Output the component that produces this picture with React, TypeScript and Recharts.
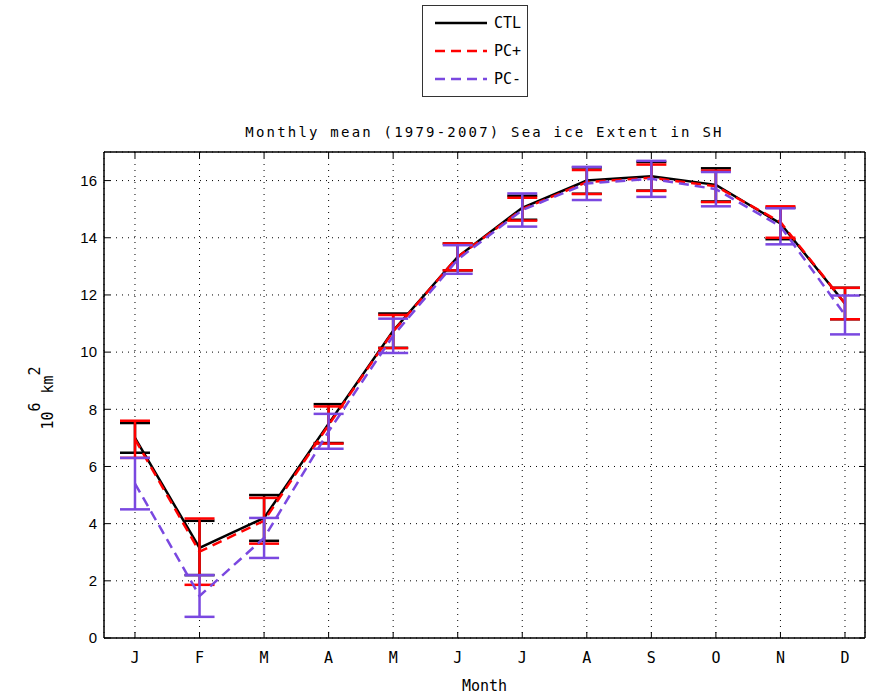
import React from "react";
import { ComposedChart, Line, XAxis, YAxis, CartesianGrid, ErrorBar } from "recharts";

// Kuukaudet (x-akselin tunnisteet)
const months = ["J", "F", "M", "A", "M", "J", "J", "A", "S", "O", "N", "D"];
const yTicks = [0, 2, 4, 6, 8, 10, 12, 14, 16];

// Keskiarvot ja keskihajonnat (10^6 km^2)
const ctl = [7.0, 3.15, 4.2, 7.5, 10.75, 13.33, 15.05, 16.0, 16.15, 15.85, 14.5, 11.7];
const ctlErr = [0.52, 0.95, 0.8, 0.68, 0.6, 0.47, 0.42, 0.46, 0.5, 0.58, 0.55, 0.55];
const pcPlus = [6.95, 3.02, 4.1, 7.45, 10.72, 13.33, 15.0, 15.95, 16.1, 15.8, 14.55, 11.7];
const pcPlusErr = [0.65, 1.16, 0.8, 0.65, 0.58, 0.47, 0.4, 0.42, 0.46, 0.55, 0.55, 0.55];
const pcMinus = [5.4, 1.47, 3.5, 7.23, 10.57, 13.24, 14.97, 15.9, 16.06, 15.7, 14.4, 11.3];
const pcMinusErr = [0.9, 0.73, 0.7, 0.61, 0.6, 0.5, 0.58, 0.58, 0.63, 0.6, 0.63, 0.68];

const PURPLE = "#7a48e0";
const FONT = "'DejaVu Sans Mono', monospace";
const SANS = "'Liberation Sans', Arial, sans-serif";

const series = [
  { key: "ctl", err: "ctlErr", name: "CTL", color: "#000000", dash: undefined },
  { key: "pcPlus", err: "pcPlusErr", name: "PC+", color: "#ff0000", dash: "10 6" },
  { key: "pcMinus", err: "pcMinusErr", name: "PC-", color: PURPLE, dash: "10 6" },
];

const data = months.map((m, i) => ({
  x: i + 1,
  month: m,
  ctl: ctl[i],
  ctlErr: ctlErr[i],
  pcPlus: pcPlus[i],
  pcPlusErr: pcPlusErr[i],
  pcMinus: pcMinus[i],
  pcMinusErr: pcMinusErr[i],
}));

const xTickStyle = { fontSize: 15, fill: "#000", fontFamily: FONT };
const yTickStyle = { fontSize: 15, fill: "#000", fontFamily: SANS };

const App: React.FC = () => {
  return (
    <div style={{ position: "absolute", left: 0, top: 0, width: 874, height: 695, background: "#fff" }}>
      {/* Selite */}
      <div
        style={{
          position: "absolute",
          left: 422,
          top: 5,
          width: 104,
          height: 90,
          border: "1.5px solid #333",
          background: "#fff",
          zIndex: 2,
        }}
      >
        <svg width={104} height={90}>
          {series.map((s, i) => (
            <g key={s.key}>
              <line
                x1={12}
                x2={64}
                y1={17 + i * 28}
                y2={17 + i * 28}
                stroke={s.color}
                strokeWidth={2.5}
                strokeDasharray={s.dash}
              />
              <text x={71} y={22 + i * 28} fontSize={15} fontFamily={FONT}>
                {s.name}
              </text>
            </g>
          ))}
        </svg>
      </div>

      {/* Otsikko */}
      <div
        style={{
          position: "absolute",
          left: 104,
          width: 761,
          top: 124,
          textAlign: "center",
          fontFamily: FONT,
          fontSize: 14,
          letterSpacing: 2.2,
        }}
      >
        Monthly mean (1979-2007) Sea ice Extent in SH
      </div>

      {/* Y-akselin nimi */}
      <svg style={{ position: "absolute", left: 0, top: 0, zIndex: 1 }} width={80} height={695}>
        <text transform="translate(53,398) rotate(-90)" textAnchor="middle" fontFamily={FONT} fontSize={15}>
          10
          <tspan dy={-13}>6</tspan>
          <tspan dy={13} dx={9}>km</tspan>
          <tspan dy={-13}>2</tspan>
        </text>
      </svg>

      {/* X-akselin nimi */}
      <div
        style={{
          position: "absolute",
          left: 104,
          width: 761,
          top: 677,
          textAlign: "center",
          fontFamily: FONT,
          fontSize: 15,
        }}
      >
        Month
      </div>

      <ComposedChart
        width={874}
        height={695}
        data={data}
        margin={{ top: 151, right: 8, bottom: 27, left: 64 }}
      >
        <CartesianGrid stroke="#000" strokeDasharray="1 5" />
        <XAxis
          dataKey="x"
          type="number"
          domain={[0.52, 12.31]}
          ticks={[1, 2, 3, 4, 5, 6, 7, 8, 9, 10, 11, 12]}
          tickFormatter={(v: number) => months[v - 1]}
          allowDataOverflow
          height={30}
          tickSize={-6}
          tickMargin={20}
          tick={xTickStyle}
          axisLine={{ stroke: "#000", strokeWidth: 1.5 }}
          tickLine={{ stroke: "#000" }}
          interval={0}
        />
        <XAxis
          xAxisId="top"
          orientation="top"
          dataKey="x"
          type="number"
          domain={[0.52, 12.31]}
          ticks={[1, 2, 3, 4, 5, 6, 7, 8, 9, 10, 11, 12]}
          tickFormatter={() => ""}
          allowDataOverflow
          height={1}
          tickSize={-6}
          axisLine={{ stroke: "#000", strokeWidth: 1.5 }}
          tickLine={{ stroke: "#000" }}
          interval={0}
        />
        <YAxis
          type="number"
          domain={[0, 17]}
          ticks={yTicks}
          allowDataOverflow
          width={40}
          tickSize={-6}
          tickMargin={13}
          tick={yTickStyle}
          axisLine={{ stroke: "#000", strokeWidth: 1.5 }}
          tickLine={{ stroke: "#000" }}
          interval={0}
        />
        <YAxis
          yAxisId="right"
          orientation="right"
          type="number"
          domain={[0, 17]}
          ticks={yTicks}
          tickFormatter={() => ""}
          allowDataOverflow
          width={1}
          tickSize={-6}
          axisLine={{ stroke: "#000", strokeWidth: 1.5 }}
          tickLine={{ stroke: "#000" }}
          interval={0}
        />
        {series.map((s) => (
          <Line
            key={s.key}
            dataKey={s.key}
            name={s.name}
            type="linear"
            stroke={s.color}
            strokeWidth={2.5}
            strokeDasharray={s.dash}
            dot={false}
            activeDot={false}
            isAnimationActive={false}
          >
            <ErrorBar dataKey={s.err} width={15} stroke={s.color} strokeWidth={2.5} isAnimationActive={false} />
          </Line>
        ))}
      </ComposedChart>
    </div>
  );
};

export default App;
